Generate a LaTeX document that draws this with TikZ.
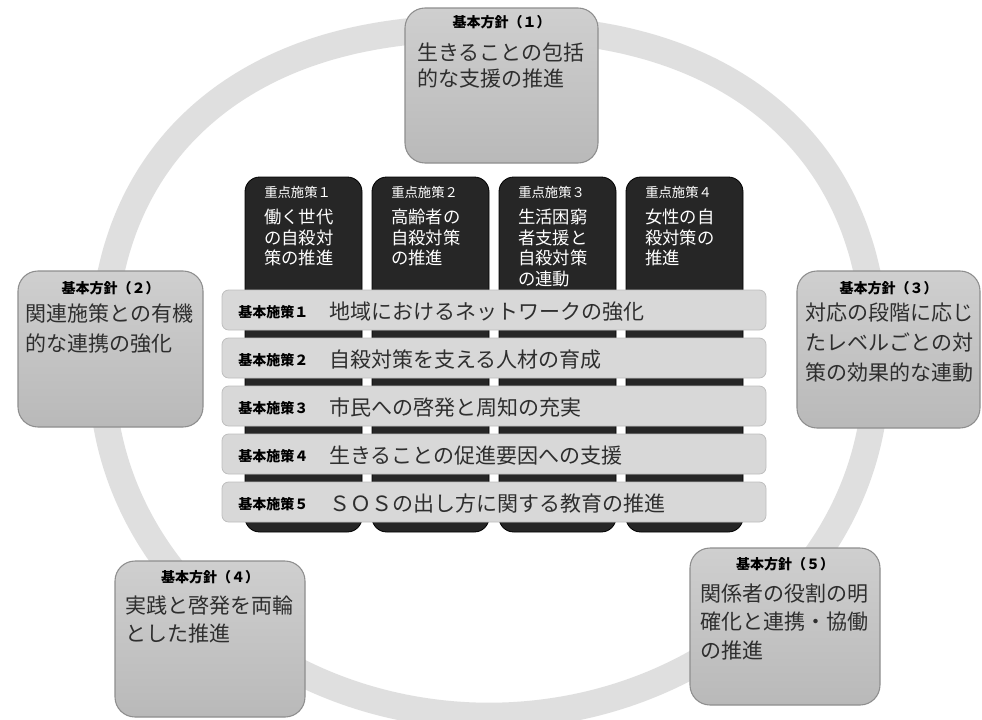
\documentclass[tikz,border=0pt]{standalone}
\usepackage{fontspec}
\setmainfont{Noto Sans CJK JP}
\definecolor{ringc}{HTML}{DFDFDF}
\definecolor{boxtop}{HTML}{CFCFCF}
\definecolor{boxbot}{HTML}{B9B9B9}
\definecolor{boxline}{HTML}{8E8E8E}
\definecolor{colc}{HTML}{262626}
\definecolor{barc}{HTML}{D8D8D8}
\definecolor{barline}{HTML}{BEBEBE}
\definecolor{bodyc}{HTML}{2E2E2E}
\begin{document}
\begin{tikzpicture}[x=0.75pt,y=-0.75pt,
  ring/.style={draw=ringc, line width=20pt},
  kbox/.style={draw=boxline, line width=0.8pt, rounded corners=15pt, top color=boxtop, bottom color=boxbot},
  colbox/.style={fill=colc, draw=black, line width=0.6pt, rounded corners=11pt},
  barbox/.style={fill=barc, draw=barline, line width=0.6pt, rounded corners=5pt},
  ttl/.style={font=\fontsize{10.5}{12}\selectfont\bfseries, inner sep=0pt, text=black},
  body/.style={anchor=north west, align=left, inner sep=0pt, text=bodyc},
  coltitle/.style={anchor=west, inner sep=0pt, text=white, font=\fontsize{10}{12}\selectfont},
  colbody/.style={anchor=north west, align=left, inner sep=0pt, text=white, font=\fontsize{13}{15.4}\selectfont},
  barlabel/.style={anchor=west, inner sep=0pt, text=black, font=\fontsize{10.5}{12}\selectfont\bfseries},
  bartext/.style={anchor=west, inner sep=0pt, text=bodyc, font=\fontsize{15.75}{18}\selectfont}
]
\useasboundingbox (0,0) rectangle (982,719);
\fill[white] (0,0) rectangle (982,719);

% ring: fuller (squarer) upper half, elliptic lower half
\draw[ring] plot[domain=1:359, samples=180, smooth]
  ({489+387*sign(cos(\x))*pow(abs(cos(\x))+0.0001, ifthenelse(sin(\x)<0,0.85,1))},
   {372+344*sign(sin(\x))*pow(abs(sin(\x))+0.0001, ifthenelse(sin(\x)<0,0.85,1))}) -- cycle;

% outer boxes
\path[kbox] (405,8) rectangle (598,163);
\path[kbox] (18,271) rectangle (203,427);
\path[kbox] (797,271) rectangle (980,428);
\path[kbox] (115,561) rectangle (305,717);
\path[kbox] (690,548) rectangle (880,705);

\node[ttl] (t1) at (501.5,22) {基本方針（１）};
\node[body, font=\fontsize{15.75}{19.5}\selectfont] (b1) at (417,42.5) {生きることの包括\\的な支援の推進};
\node[ttl] (t2) at (110.5,288) {基本方針（２）};
\node[body, font=\fontsize{15.75}{22.5}\selectfont] (b2) at (25,303.5) {関連施策との有機\\的な連携の強化};
\node[ttl] (t3) at (888.5,288) {基本方針（３）};
\node[body, font=\fontsize{15.75}{22.5}\selectfont] (b3) at (805,302.5) {対応の段階に応じ\\たレベルごとの対\\策の効果的な連動};
\node[ttl] (t4) at (210,577) {基本方針（４）};
\node[body, font=\fontsize{15.75}{21}\selectfont] (b4) at (125,595.5) {実践と啓発を両輪\\とした推進};
\node[ttl] (t5) at (785,564) {基本方針（５）};
\node[body, font=\fontsize{15.75}{21.4}\selectfont] (b5) at (700,583.5) {関係者の役割の明\\確化と連携・協働\\の推進};

% black columns
\path[colbox] (245,177) rectangle (362,532);
\path[colbox] (372,177) rectangle (489,532);
\path[colbox] (499,177) rectangle (616,532);
\path[colbox] (626,177) rectangle (743,532);

\node[coltitle] (ct1) at (264,192) {重点施策１};
\node[colbody] (cb1) at (264,209) {働く世代\\の自殺対\\策の推進};
\node[coltitle] (ct2) at (391,192) {重点施策２};
\node[colbody] (cb2) at (391,209) {高齢者の\\自殺対策\\の推進};
\node[coltitle] (ct3) at (518,192) {重点施策３};
\node[colbody] (cb3) at (518,209) {生活困窮\\者支援と\\自殺対策\\の連動};
\node[coltitle] (ct4) at (645,192) {重点施策４};
\node[colbody] (cb4) at (645,209) {女性の自\\殺対策の\\推進};

% bars
\path[barbox] (222,290) rectangle (766,330);
\path[barbox] (222,338) rectangle (766,378);
\path[barbox] (222,386) rectangle (766,426);
\path[barbox] (222,434) rectangle (766,474);
\path[barbox] (222,482) rectangle (766,522);

\node[barlabel] (l1) at (238,312) {基本施策１};
\node[bartext] (m1) at (329,312) {地域におけるネットワークの強化};
\node[barlabel] (l2) at (238,360) {基本施策２};
\node[bartext] (m2) at (329,360) {自殺対策を支える人材の育成};
\node[barlabel] (l3) at (238,408) {基本施策３};
\node[bartext] (m3) at (329,408) {市民への啓発と周知の充実};
\node[barlabel] (l4) at (238,456) {基本施策４};
\node[bartext] (m4) at (329,456) {生きることの促進要因への支援};
\node[barlabel] (l5) at (238,504) {基本施策５};
\node[bartext] (m5) at (329,504) {ＳＯＳの出し方に関する教育の推進};
\end{tikzpicture}
\end{document}
